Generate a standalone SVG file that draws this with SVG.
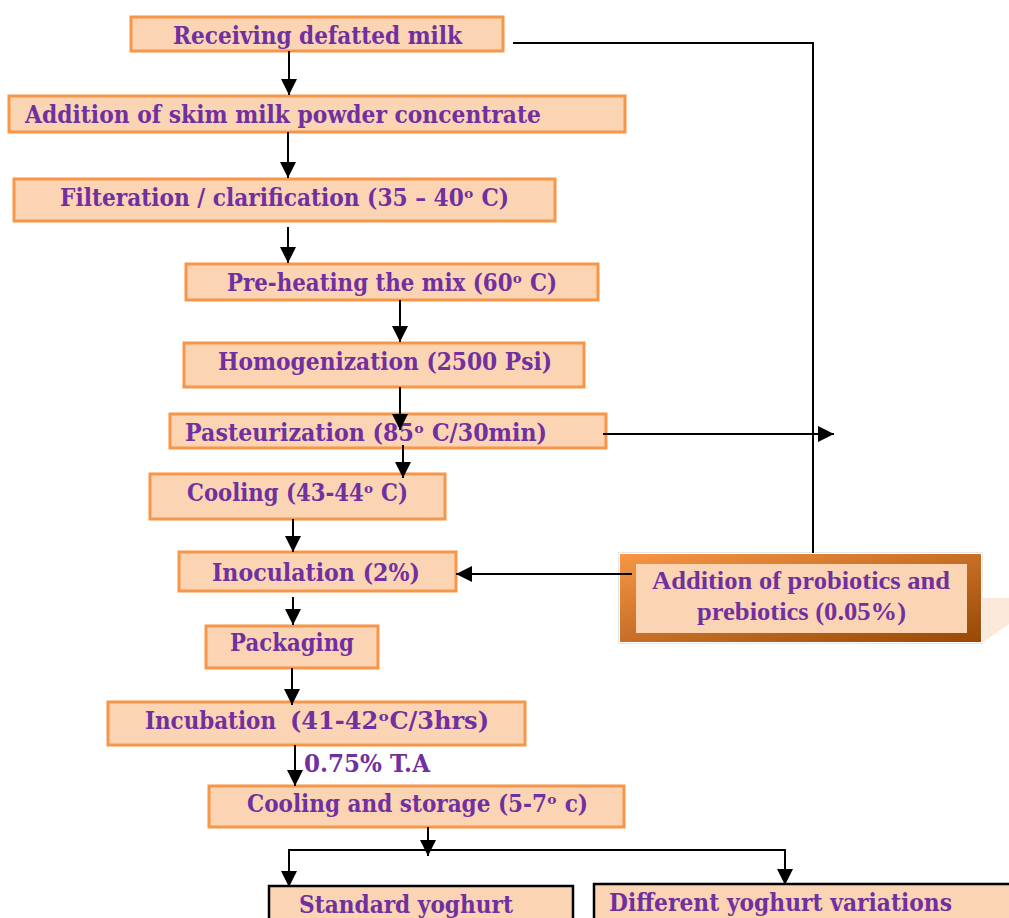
<svg xmlns="http://www.w3.org/2000/svg" width="1009" height="918" viewBox="0 0 1009 918">
<style>
.box{fill:#FBD4B4;stroke:#F79646;stroke-width:3}
.bbox{fill:#FBD4B4;stroke:#000;stroke-width:2.5}
.t{font-family:"DejaVu Serif","Liberation Serif","Noto Sans",serif;font-weight:bold;font-size:23.5px;fill:#7030A0}
.tt{font-family:"Liberation Serif","Times New Roman",serif;font-weight:bold;font-size:25px;fill:#7030A0}
.c{fill:none;stroke:#000;stroke-width:2}
</style>
<defs>
<marker id="ah" markerUnits="userSpaceOnUse" markerWidth="18" markerHeight="16" refX="16" refY="8" orient="auto">
<path d="M0,0 L16,8 L0,16 z" fill="#000"/>
</marker>
<linearGradient id="pg" x1="0" y1="0" x2="1" y2="1">
<stop offset="0" stop-color="#F79646"/>
<stop offset="1" stop-color="#984806"/>
</linearGradient>
</defs>
<rect width="1009" height="918" fill="#fff"/>

<g id="n1"><rect class="box" x="131" y="17" width="372" height="34"/><text class="t" x="173" y="44" textLength="289" lengthAdjust="spacingAndGlyphs">Receiving defatted milk</text></g>
<g id="n2"><rect class="box" x="9" y="96" width="616" height="36"/><text class="t" x="25" y="123" textLength="516" lengthAdjust="spacingAndGlyphs">Addition of skim milk powder concentrate</text></g>
<g id="n3"><rect class="box" x="14" y="179" width="541" height="42"/><text class="t" x="60" y="206" textLength="449" lengthAdjust="spacingAndGlyphs">Filteration / clarification (35 – 40ᵒ C)</text></g>
<g id="n4"><rect class="box" x="186" y="264" width="412" height="36"/><text class="t" x="227" y="291" textLength="330" lengthAdjust="spacingAndGlyphs">Pre-heating the mix (60ᵒ C)</text></g>
<g id="n5"><rect class="box" x="184" y="343" width="400" height="44"/><text class="t" x="218" y="370" textLength="334" lengthAdjust="spacingAndGlyphs">Homogenization (2500 Psi)</text></g>
<g id="n6"><rect class="box" x="170" y="414" width="436" height="34"/><text class="t" x="185" y="441" textLength="362" lengthAdjust="spacingAndGlyphs">Pasteurization (85ᵒ C/30min)</text></g>
<g id="n7"><rect class="box" x="150" y="474" width="295" height="45"/><text class="t" x="187" y="501" textLength="221" lengthAdjust="spacingAndGlyphs">Cooling (43-44ᵒ C)</text></g>
<g id="n8"><rect class="box" x="179" y="552" width="277" height="39"/><text class="t" x="212" y="581" textLength="208" lengthAdjust="spacingAndGlyphs">Inoculation (2%)</text></g>
<g id="n9"><rect class="box" x="206" y="626" width="172" height="42"/><text class="t" x="230" y="651" textLength="124" lengthAdjust="spacingAndGlyphs">Packaging</text></g>
<g id="n10"><rect class="box" x="108" y="702" width="417" height="43"/><text class="t" x="145" y="729" textLength="131" lengthAdjust="spacingAndGlyphs">Incubation</text><text class="t" x="290" y="729" textLength="199" lengthAdjust="spacingAndGlyphs">(41-42ᵒC/3hrs)</text></g>
<g id="n11"><rect class="box" x="209" y="786" width="415" height="41"/><text class="t" x="247" y="812" textLength="341" lengthAdjust="spacingAndGlyphs">Cooling and storage (5-7ᵒ c)</text></g>
<g id="n12"><rect class="bbox" x="269" y="886" width="304" height="40"/><text class="t" x="299" y="913" textLength="214" lengthAdjust="spacingAndGlyphs">Standard yoghurt</text></g>
<g id="n13"><rect class="bbox" x="594" y="884" width="420" height="40"/><text class="t" x="609" y="911" textLength="343" lengthAdjust="spacingAndGlyphs">Different yoghurt variations</text></g>
<g id="n14">
<polygon points="983,598 1009,598 1009,624 983,642" fill="#FDE9D9"/>
<rect x="618.5" y="552.5" width="364" height="91" fill="none" stroke="#E6E6E6" stroke-width="1"/>
<rect x="620" y="554" width="361" height="88" fill="url(#pg)"/>
<rect x="636" y="564" width="331" height="69" fill="#FBD4B4"/>
<text class="tt" x="652" y="589" textLength="298" lengthAdjust="spacingAndGlyphs">Addition of probiotics and</text>
<text class="tt" x="697" y="620" textLength="209" lengthAdjust="spacingAndGlyphs">prebiotics (0.05%)</text>
</g>
<g id="lbl"><text class="t" x="304" y="772" textLength="126" lengthAdjust="spacingAndGlyphs">0.75% T.A</text></g>

<g id="connectors">
<line class="c" x1="289" y1="51" x2="289" y2="95" marker-end="url(#ah)"/>
<line class="c" x1="288" y1="132" x2="288" y2="178" marker-end="url(#ah)"/>
<line class="c" x1="288" y1="227" x2="288" y2="263" marker-end="url(#ah)"/>
<line class="c" x1="400" y1="300" x2="400" y2="342" marker-end="url(#ah)"/>
<line class="c" x1="400" y1="387" x2="400" y2="430" marker-end="url(#ah)"/>
<line class="c" x1="403" y1="445" x2="403" y2="478" marker-end="url(#ah)"/>
<line class="c" x1="293" y1="519" x2="293" y2="552" marker-end="url(#ah)"/>
<line class="c" x1="293" y1="597" x2="293" y2="625" marker-end="url(#ah)"/>
<line class="c" x1="292" y1="668" x2="292" y2="705" marker-end="url(#ah)"/>
<line class="c" x1="295" y1="745" x2="295" y2="786" marker-end="url(#ah)"/>
<line class="c" x1="428" y1="827" x2="428" y2="856" marker-end="url(#ah)"/>
<line class="c" x1="288" y1="850" x2="786" y2="850"/>
<line class="c" x1="289" y1="850" x2="289" y2="887" marker-end="url(#ah)"/>
<line class="c" x1="785" y1="850" x2="785" y2="885" marker-end="url(#ah)"/>
<polyline class="c" points="513,43 813,43 813,553"/>
<line class="c" x1="603" y1="434" x2="834" y2="434" marker-end="url(#ah)"/>
<line class="c" x1="632" y1="574" x2="456" y2="574" marker-end="url(#ah)"/>
</g>
</svg>
